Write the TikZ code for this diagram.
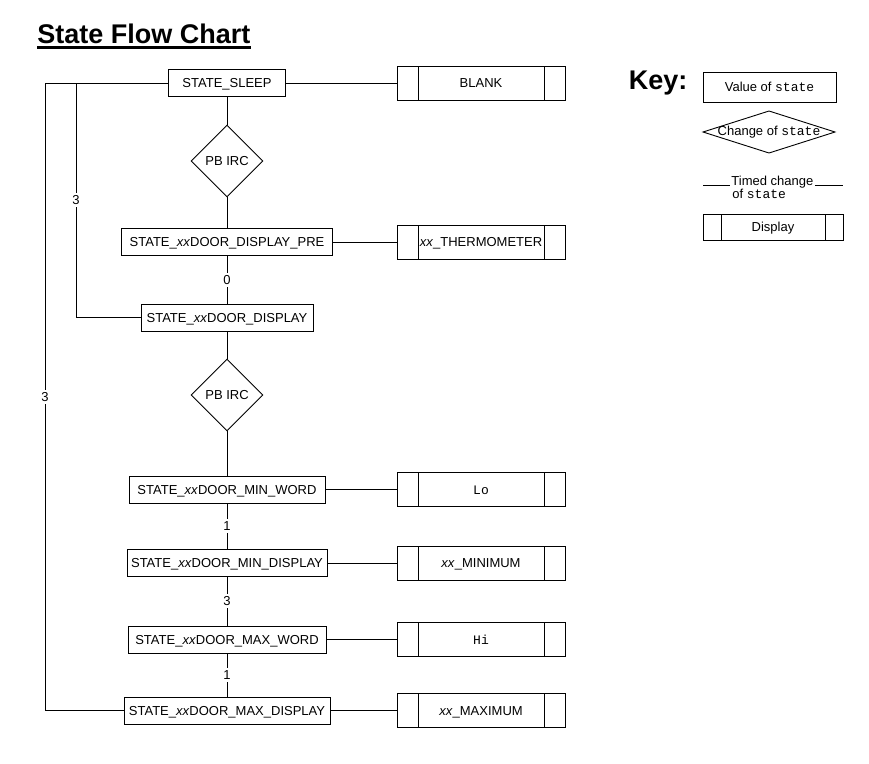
\documentclass[tikz,border=0pt]{standalone}
\usepackage{fontspec}
\setmainfont{Liberation Sans}
\setmonofont{Liberation Mono}
\usetikzlibrary{shapes.geometric}
\begin{document}
\begin{tikzpicture}[
    x=1pt, y=-1pt,
    line width=0.9pt,
    every node/.style={font=\fontsize{13}{15}\selectfont},
    state/.style={draw, minimum height=27, inner sep=2, text height=9.5, text depth=0.5},
    irc/.style={draw, diamond, aspect=1, minimum width=72, minimum height=72, inner sep=0},
    display/.style={draw, minimum width=168, minimum height=34, inner sep=2, text height=9.5, text depth=0.5,
      path picture={
        \draw ([xshift=#1]path picture bounding box.north west) -- ([xshift=#1]path picture bounding box.south west);
        \draw ([xshift=-#1]path picture bounding box.north east) -- ([xshift=-#1]path picture bounding box.south east);
      }},
    display/.default=21pt,
    num/.style={fill=white, inner sep=2.5},
    heading/.style={font=\fontsize{27}{30}\selectfont\bfseries, inner sep=0, anchor=base west}
  ]
  \useasboundingbox (0,0) rectangle (869,763);

  \node[heading] (title) at (37,43.5) {State Flow Chart};
  \draw[line width=3pt] ([yshift=-3.5pt]title.base west) -- ([yshift=-3.5pt]title.base east);

  \node[state, minimum width=117] (sleep) at (227,83) {STATE\_SLEEP};
  \node[irc] (irc1) at (227,161) {PB IRC};
  \node[state, minimum width=211] (pre) at (227,242) {STATE\_\textit{xx}DOOR\_DISPLAY\_PRE};
  \node[state, minimum width=172] (disp) at (227,317.5) {STATE\_\textit{xx}DOOR\_DISPLAY};
  \node[irc] (irc2) at (227,395) {PB IRC};
  \node[state, minimum width=196] (minword) at (227,489.5) {STATE\_\textit{xx}DOOR\_MIN\_WORD};
  \node[state, minimum width=200] (mindisp) at (227,563) {STATE\_\textit{xx}DOOR\_MIN\_DISPLAY};
  \node[state, minimum width=198] (maxword) at (227,639.5) {STATE\_\textit{xx}DOOR\_MAX\_WORD};
  \node[state, minimum width=206] (maxdisp) at (227,710.5) {STATE\_\textit{xx}DOOR\_MAX\_DISPLAY};

  \node[display] (blank) at (481,83) {BLANK};
  \node[display] (thermo) at (481,242) {\textit{xx}\_THERMOMETER};
  \node[display] (lo) at (481,489.5) {\texttt{Lo}};
  \node[display] (minimum) at (481,563) {\textit{xx}\_MINIMUM};
  \node[display] (hi) at (481,639.5) {\texttt{Hi}};
  \node[display] (maximum) at (481,710.5) {\textit{xx}\_MAXIMUM};

  \draw (sleep) -- (irc1);
  \draw (irc1) -- (pre);
  \draw (pre) -- node[num] {0} (disp);
  \draw (disp) -- (irc2);
  \draw (irc2) -- (minword);
  \draw (minword) -- node[num] {1} (mindisp);
  \draw (mindisp) -- node[num] {3} (maxword);
  \draw (maxword) -- node[num] {1} (maxdisp);

  \draw (sleep) -- (blank);
  \draw (pre) -- (thermo);
  \draw (minword) -- (lo);
  \draw (mindisp) -- (minimum);
  \draw (maxword) -- (hi);
  \draw (maxdisp) -- (maximum);

  \coordinate (outerTop) at (45,83);
  \coordinate (outerBot) at (45,710.5);
  \coordinate (innerTop) at (76,83);
  \coordinate (innerBot) at (76,317.5);
  \draw (sleep.west) -- (outerTop) -- node[num] {3} (outerBot) -- (maxdisp.west);
  \draw (innerTop) -- node[num] {3} (innerBot) -- (disp.west);

  \node[heading] (key) at (628.5,89.5) {Key:};
  \node[state, minimum width=133, minimum height=30] (keyValue) at (769.5,87) {Value of \texttt{state}};
  \node[inner sep=0] (keyChange) at (769,132) {Change of \texttt{state}};
  \draw ([xshift=-66pt]keyChange.center) -- ([yshift=21pt]keyChange.center)
    -- ([xshift=66pt]keyChange.center) -- ([yshift=-21pt]keyChange.center) -- cycle;
  \node[inner sep=1, anchor=base west] (timedA) at (730,185.5) {Timed change};
  \node[inner sep=0, anchor=base west] (timedB) at (732,198) {of \texttt{state}};
  \coordinate (timedL) at (703,185.5);
  \coordinate (timedR) at (843,185.5);
  \draw (timedL) -- (timedA.base west);
  \draw (timedA.base east) -- (timedR);
  \node[display=18pt, minimum width=140, minimum height=26] (keyDisplay) at (773,227) {Display};
\end{tikzpicture}
\end{document}
